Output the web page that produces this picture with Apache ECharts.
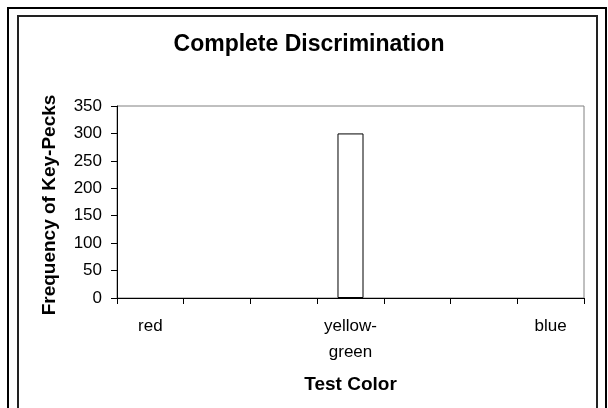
<!DOCTYPE html>
<html>
<head>
<meta charset="utf-8">
<script src="https://cdn.jsdelivr.net/npm/echarts@6/dist/echarts.min.js"></script>
<style>
  html, body { margin: 0; padding: 0; background: #fff; }
  #chart { width: 608px; height: 408px; }
</style>
</head>
<body>
<div id="chart"></div>
<script>
  // test colours on the x axis, only three of them labelled
  var colors = ['red', '', '', 'yellow-\ngreen', '', '', 'blue'];
  var pecks = [0, 0, 0, 300, 0, 0, 0];
  var yTicks = {min: 0, max: 350, step: 50};

  var font = '"Liberation Sans", Arial, sans-serif';
  var app = echarts.init(document.getElementById('chart'));

  // zero bars: no outline, like Excel
  var barData = pecks.map(function (v) {
    return v ? v : {value: v, itemStyle: {borderWidth: 0}};
  });

  var option = {
    animation: false,
    backgroundColor: '#fff',
    title: {
      text: 'Complete Discrimination',
      left: 304,
      textAlign: 'center',
      top: 28,
      textStyle: {fontFamily: font, fontSize: 23, fontWeight: 'bold', color: '#000'}
    },
    // document frame + chart area frame (bottom is cropped off)
    graphic: [
      {type: 'polyline', shape: {points: [[8, 410], [8, 8], [606, 8], [606, 410]]},
       style: {stroke: '#000', lineWidth: 2, fill: null}},
      {type: 'polyline', shape: {points: [[18, 410], [18, 16], [597, 16], [597, 410]]},
       style: {stroke: '#222', lineWidth: 2, fill: null}}
    ],
    grid: {
      left: 117, right: 24, top: 106, bottom: 110,
      show: true, borderColor: '#808080', borderWidth: 1, backgroundColor: '#fff'
    },
    xAxis: {
      type: 'category',
      data: colors,
      boundaryGap: true,
      name: 'Test Color',
      nameLocation: 'middle',
      nameGap: 77,
      nameTextStyle: {fontFamily: font, fontSize: 19, fontWeight: 'bold', color: '#000'},
      axisLine: {lineStyle: {color: '#000', width: 1}},
      axisTick: {show: true, interval: 0, length: 6, lineStyle: {color: '#000'}},
      axisLabel: {interval: 0, margin: 15, fontFamily: font, fontSize: 17, color: '#000', lineHeight: 26},
      splitLine: {show: false}
    },
    yAxis: {
      type: 'value',
      min: yTicks.min,
      max: yTicks.max,
      interval: yTicks.step,
      name: 'Frequency of Key-Pecks',
      nameLocation: 'middle',
      nameRotate: 90,
      nameGap: 58,
      nameTextStyle: {fontFamily: font, fontSize: 19, fontWeight: 'bold', color: '#000', padding: [0, 6, 0, 0]},
      axisLine: {show: true, lineStyle: {color: '#000', width: 1}},
      axisTick: {show: true, length: 6, lineStyle: {color: '#000'}},
      axisLabel: {margin: 15, fontFamily: font, fontSize: 17, color: '#000'},
      splitLine: {show: false}
    },
    series: [{
      name: 'Key-Pecks',
      type: 'bar',
      data: barData,
      barWidth: '39%',
      itemStyle: {color: '#fff', borderColor: '#000', borderWidth: 1}
    }]
  };

  app.setOption(option);
</script>
</body>
</html>
